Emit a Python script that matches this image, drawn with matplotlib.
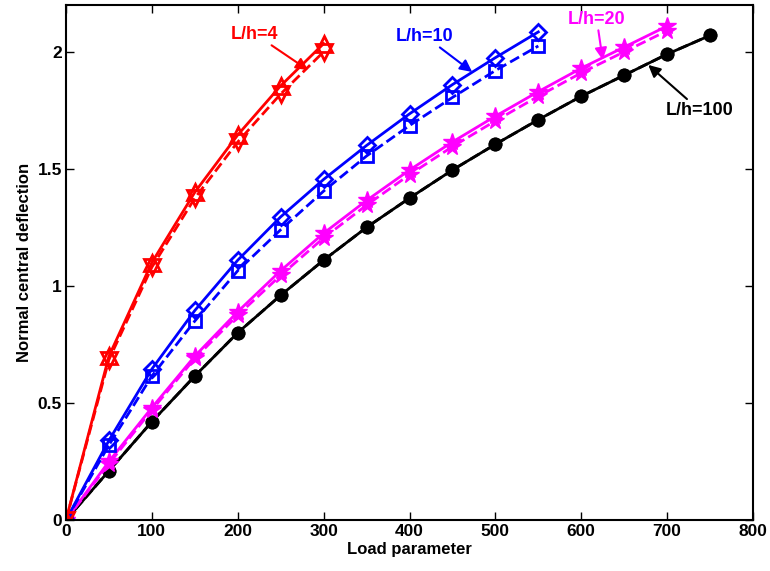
import numpy as np
import matplotlib
matplotlib.use("Agg")
import matplotlib.pyplot as plt

plt.rcParams['font.family'] = ['Liberation Sans', 'DejaVu Sans']
plt.rcParams['font.weight'] = 'bold'

# Load parameter values
x4 = [0, 50, 100, 150, 200, 250, 300]
x10 = [0, 50, 100, 150, 200, 250, 300, 350, 400, 450, 500, 550]
x20 = [0, 50, 100, 150, 200, 250, 300, 350, 400, 450, 500, 550, 600, 650, 700]
x100 = [0, 50, 100, 150, 200, 250, 300, 350, 400, 450, 500, 550, 600, 650, 700, 750]

# L/h = 4
lh4_solid = [0, 0.70, 1.10, 1.40, 1.645, 1.855, 2.035]
lh4_dash = [0, 0.685, 1.08, 1.375, 1.615, 1.82, 2.00]
# L/h = 10
lh10_solid = [0, 0.34, 0.645, 0.895, 1.11, 1.295, 1.455, 1.60, 1.735, 1.86, 1.975, 2.085]
lh10_dash = [0, 0.32, 0.615, 0.85, 1.065, 1.24, 1.405, 1.555, 1.685, 1.805, 1.92, 2.025]
# L/h = 20
lh20_solid = [0, 0.25, 0.48, 0.70, 0.89, 1.065, 1.225, 1.365, 1.495, 1.615, 1.725, 1.83, 1.93, 2.02, 2.11]
lh20_dash = [0, 0.24, 0.47, 0.69, 0.875, 1.045, 1.205, 1.345, 1.475, 1.595, 1.705, 1.81, 1.91, 2.00, 2.09]
# L/h = 100
lh100_solid = [0, 0.21, 0.42, 0.615, 0.80, 0.96, 1.11, 1.25, 1.375, 1.495, 1.605, 1.71, 1.81, 1.90, 1.99, 2.07]
lh100_dash = [0, 0.21, 0.42, 0.615, 0.80, 0.96, 1.11, 1.25, 1.375, 1.495, 1.605, 1.71, 1.81, 1.90, 1.99, 2.07]

fig = plt.figure(figsize=(7.7, 5.71), dpi=100)
ax = fig.add_axes([66 / 770, 51 / 571, 687 / 770, 515 / 571])

lw = 2.0
ms = 9
ax.plot(x100, lh100_dash, '--', color='black', lw=lw, marker='o', ms=ms, mfc='black', mec='black')
ax.plot(x100, lh100_solid, '-', color='black', lw=lw, marker='o', ms=ms, mfc='black', mec='black')
ax.plot(x20, lh20_dash, '--', color='#ff00ff', lw=lw, marker='*', ms=ms + 4, mfc='#ff00ff', mec='#ff00ff')
ax.plot(x20, lh20_solid, '-', color='#ff00ff', lw=lw, marker='*', ms=ms + 4, mfc='#ff00ff', mec='#ff00ff')
ax.plot(x10, lh10_dash, '--', color='#0000ff', lw=lw, marker='s', ms=ms - 1, mfc='none', mec='#0000ff', mew=2)
ax.plot(x10, lh10_solid, '-', color='#0000ff', lw=lw, marker='D', ms=ms - 1, mfc='none', mec='#0000ff', mew=2)
ax.plot(x4, lh4_dash, '--', color='#ff0000', lw=lw, marker='v', ms=ms + 2, mfc='none', mec='#ff0000', mew=2)
ax.plot(x4, lh4_solid, '-', color='#ff0000', lw=lw, marker='^', ms=ms + 2, mfc='none', mec='#ff0000', mew=2)

ax.set_xlim(0, 800)
ax.set_ylim(0, 2.2)
ax.set_xticks([0, 100, 200, 300, 400, 500, 600, 700, 800])
ax.set_yticks([0, 0.5, 1, 1.5, 2])
ax.set_yticklabels(['0', '0.5', '1', '1.5', '2'])
ax.tick_params(direction='in', top=True, right=True, labelsize=12.5, width=1, length=6, pad=3)
for lab in ax.get_xticklabels() + ax.get_yticklabels():
    lab.set_fontweight('bold')
for s in ax.spines.values():
    s.set_linewidth(1.5)

ax.set_xlabel('Load parameter', fontsize=12, fontweight='bold', labelpad=2)
ax.set_ylabel('Normal central deflection', fontsize=12, fontweight='bold', labelpad=4)

aprops = dict(arrowstyle='-|>', lw=1.5, mutation_scale=18, shrinkA=0, shrinkB=0)
ax.annotate('L/h=4', xy=(282, 1.922), xytext=(220, 2.076), color='#ff0000', fontsize=13,
            fontweight='bold', ha='center', va='center',
            arrowprops=dict(color='#ff0000', **aprops))
ax.annotate('L/h=10', xy=(473, 1.914), xytext=(418, 2.067), color='#0000ff', fontsize=13,
            fontweight='bold', ha='center', va='center',
            arrowprops=dict(color='#0000ff', **aprops))
ax.annotate('L/h=20', xy=(625, 1.965), xytext=(618, 2.14), color='#ff00ff', fontsize=13,
            fontweight='bold', ha='center', va='center',
            arrowprops=dict(color='#ff00ff', **aprops))
ax.annotate('L/h=100', xy=(678, 1.944), xytext=(738, 1.75), color='black', fontsize=13,
            fontweight='bold', ha='center', va='center',
            arrowprops=dict(color='black', **aprops))

fig.savefig('out.png', dpi=100)
